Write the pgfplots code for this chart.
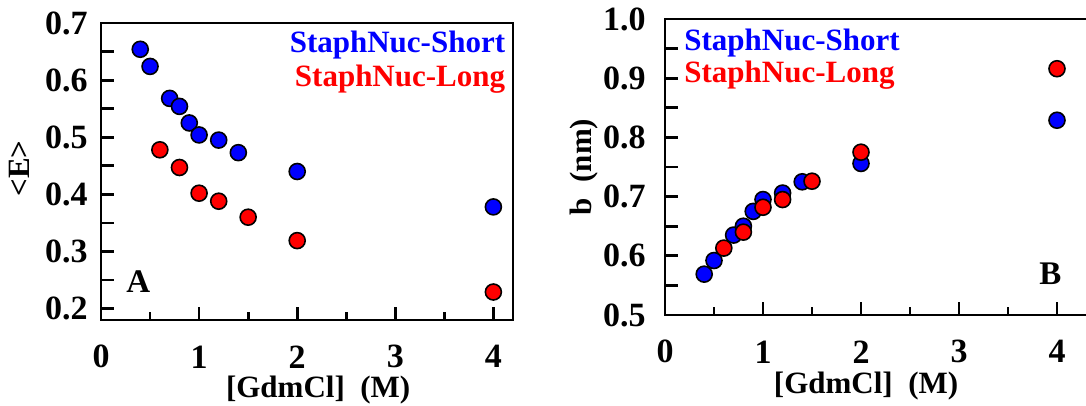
\documentclass[border=0pt]{standalone}
\usepackage{fontspec}
\setmainfont{Liberation Serif}
\usepackage{pgfplots}
\pgfplotsset{compat=1.18}
\definecolor{sblue}{RGB}{0,0,255}
\definecolor{sred}{RGB}{255,0,0}
\newcommand{\ff}{\fontsize{15.5}{18}\selectfont\bfseries}
\newcommand{\ft}{\fontsize{17}{20}\selectfont\bfseries}
\newcommand{\fl}{\fontsize{16.5}{20}\selectfont\bfseries}
\pgfplotsset{
  myax/.style={
    scale only axis,
    axis line style={line width=1.4pt},
    every tick/.style={black, line width=1.4pt},
    tick align=inside,
    tick pos=left,
    major tick length=6.5pt,
    minor tick length=4pt,
    xmin=0,
    xtick={0,1,2,3,4},
    xticklabels={0,1,2,3,4},
    minor xtick={0.5,1.5,2.5,3.5},
    tick label style={font=\ft, inner sep=0pt},
    /pgf/number format/assume math mode=true,
    xticklabel style={anchor=center, yshift=-18.4pt},
    xlabel={[GdmCl]\ \ (M)},
    clip=false,
  },
  dots/.style={only marks, mark=*, mark size=4pt, mark options={draw=black, line width=0.8pt, fill=#1}},
}
\begin{document}
\begin{tikzpicture}[x=1pt,y=1pt]
\useasboundingbox (0,0) rectangle (543,203);
% Panel A
\begin{axis}[myax, at={(50.5pt,43pt)}, anchor=south west,
  width=206pt, height=148.5pt,
  xmax=4.2, ymin=0.18, ymax=0.7,
  ytick={0.2,0.25,0.3,0.35,0.4,0.45,0.5,0.55,0.6,0.65,0.7},
  yticklabels={0.2,,0.3,,0.4,,0.5,,0.6,,0.7},
  yticklabel style={anchor=east, xshift=-6.5pt},
  ylabel={<E>},
  every axis x label/.style={at={(axis description cs:0.527,-0.236)}, anchor=center, font=\ff},
  every axis y label/.style={at={(axis description cs:-0.197,0.51)}, anchor=center, rotate=90, font=\ff},
]
\addplot[dots=sblue] coordinates {
 (0.4,0.654) (0.5,0.624) (0.7,0.568) (0.8,0.554) (0.9,0.525) (1.0,0.504)
 (1.2,0.495) (1.4,0.473) (2.0,0.440) (4.0,0.378)};
\addplot[dots=sred] coordinates {
 (0.6,0.478) (0.8,0.447) (1.0,0.402) (1.2,0.388) (1.5,0.360) (2.0,0.319) (4.0,0.229)};
\node[anchor=base east, font=\ff, text=sblue, inner sep=0pt] at (axis cs:4.124,0.649) {StaphNuc-Short};
\node[anchor=base east, font=\ff, text=sred, inner sep=0pt] at (axis cs:4.124,0.589) {StaphNuc-Long};
\node[anchor=base west, font=\fl, inner sep=0pt] at (axis cs:0.255,0.2276) {A};
\end{axis}
% Panel B
\begin{axis}[myax, at={(332.5pt,45.5pt)}, anchor=south west,
  width=225.4pt, height=148pt,
  xmax=4.6, ymin=0.5, ymax=1.0,
  ytick={0.5,0.55,0.6,0.65,0.7,0.75,0.8,0.85,0.9,0.95,1.0},
  yticklabels={0.5,,0.6,,0.7,,0.8,,0.9,,1.0},
  yticklabel style={anchor=east, xshift=-9.5pt},
  ylabel={b\ \ (nm)},
  every axis x label/.style={at={(axis description cs:0.446,-0.24)}, anchor=center, font=\ff},
  every axis y label/.style={at={(axis description cs:-0.18,0.5)}, anchor=center, rotate=90, font=\ff},
]
\addplot[dots=sblue] coordinates {
 (0.4,0.569) (0.5,0.592) (0.7,0.635) (0.8,0.650) (0.9,0.675) (1.0,0.695)
 (1.2,0.706) (1.4,0.725) (2.0,0.756) (4.0,0.829)};
\addplot[dots=sred] coordinates {
 (0.6,0.613) (0.8,0.640) (1.0,0.682) (1.2,0.695) (1.5,0.726) (2.0,0.775) (4.0,0.916)};
\node[anchor=base west, font=\ff, text=sblue, inner sep=0pt] at (axis cs:0.194,0.9476) {StaphNuc-Short};
\node[anchor=base west, font=\ff, text=sred, inner sep=0pt] at (axis cs:0.194,0.892) {StaphNuc-Long};
\node[anchor=base west, font=\fl, inner sep=0pt] at (axis cs:3.816,0.5507) {B};
\end{axis}
\end{tikzpicture}
\end{document}
